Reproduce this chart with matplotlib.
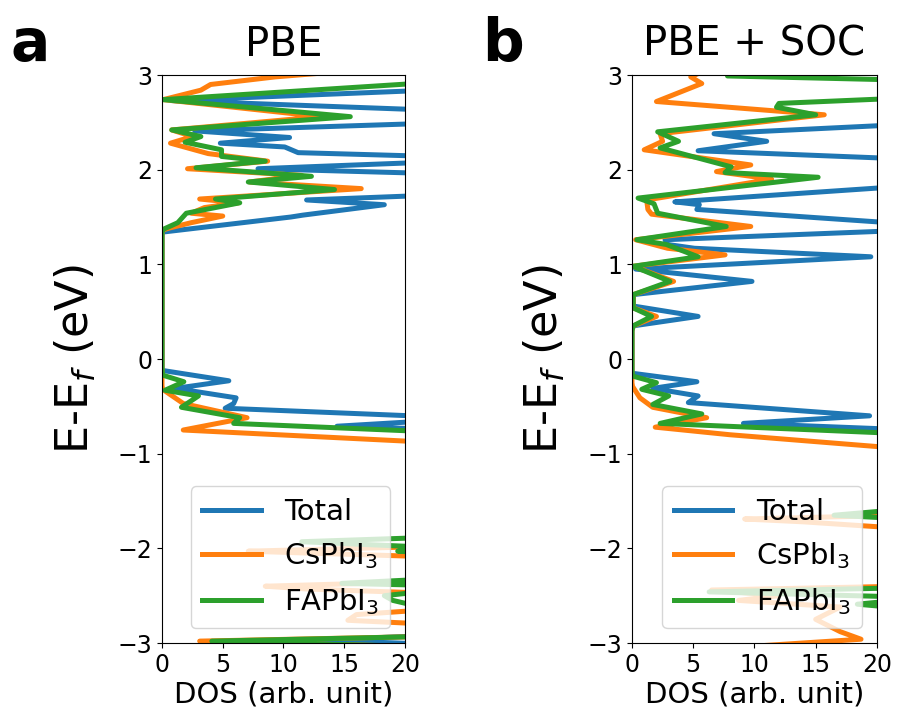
import matplotlib
matplotlib.use('Agg')
import matplotlib.pyplot as plt

# ---- panel a: PBE (energy in eV, DOS in arb. unit) ----
pbe_total_e = [-3.05, -2.97, -2.92, -2.85, -1.0, -0.80, -0.74, -0.71, -0.66, -0.63, -0.60,
               -0.52, -0.47, -0.41, -0.31, -0.23, -0.12, 1.34, 1.50, 1.52, 1.63, 1.68, 1.73,
               1.85, 1.96, 2.01, 2.08, 2.13, 2.18, 2.24, 2.28, 2.34, 2.41, 2.49, 2.56, 2.63,
               2.73, 2.84, 3.05]
pbe_total_dos = [30, 13, 22, 35, 35, 30, 22, 14.4, 21, 24, 20.5,
                 5.2, 5.9, 6.1, 1.1, 5.5, 0, 0, 10.6, 11.6, 18.3, 11.9, 22,
                 30, 22, 7.9, 22, 25, 11.2, 10.1, 4.8, 10.5, 2.7, 22, 28, 22,
                 0.8, 22, 35]

pbe_cs_e = [-3.05, -2.98, -2.93, -2.85, -2.76, -2.70, -2.62, -2.50, -2.43, -2.40, -2.35,
            -2.25, -2.18, -2.10, -2.05, -2.03, -1.98, -1.87, -1.80, -1.5, -1.0, -0.87,
            -0.75, -0.62, -0.47, -0.32, -0.28, 1.36, 1.38, 1.44, 1.51, 1.54, 1.60, 1.65,
            1.69, 1.80, 1.87, 1.94, 2.01, 2.09, 2.17, 2.28, 2.35, 2.42, 2.56, 2.74, 2.84,
            2.90, 2.98, 3.05]
pbe_cs_dos = [25, 3.1, 22, 30, 15.3, 16, 25, 28, 12, 8.5, 22,
              28, 21, 25, 12, 7.1, 22, 21, 28, 35, 30, 20.5,
              1.75, 7.0, 1.75, 0.05, 0, 0, 0.5, 2.4, 5.0, 2.4, 3.5, 6.3,
              3.1, 16.4, 7.2, 11.5, 2.1, 8.7, 3.8, 0.7, 2.5, 0.8, 13.1, 0.1, 3.2,
              4.0, 9.3, 16]

pbe_fa_e = [-3.05, -2.98, -2.93, -2.85, -2.70, -2.55, -2.50, -2.45, -2.40, -2.37, -2.33,
            -2.25, -2.20, -2.10, -2.05, -2.03, -2.00, -1.93, -1.88, -1.80, -1.7, -1.0,
            -0.80, -0.76, -0.68, -0.62, -0.51, -0.39, -0.33, -0.24, -0.17, -0.10, 1.35,
            1.37, 1.44, 1.54, 1.65, 1.69, 1.79, 1.87, 1.93, 2.02, 2.09, 2.14, 2.21, 2.29,
            2.35, 2.42, 2.56, 2.74, 2.92, 3.05]
pbe_fa_dos = [25, 4.1, 22, 28, 24, 19, 18.3, 22, 25, 14.8, 21,
              30, 21, 28, 22, 19.4, 24, 11.5, 23, 21, 30, 30,
              24, 20.5, 5.9, 6.4, 1.6, 3.0, 0.25, 1.8, 0.05, 0, 0,
              0.1, 1.3, 2.0, 6.4, 4.4, 14.2, 7.1, 12.3, 2.8, 8.5, 4.9, 4.9, 1.9,
              3.2, 0.8, 15.5, 0.1, 22, 35]

# ---- panel b: PBE + SOC ----
soc_total_e = [-3.05, -1.0, -0.80, -0.74, -0.68, -0.60, -0.46, -0.39, -0.31, -0.24, -0.15,
               0.30, 0.35, 0.45, 0.56, 0.68, 0.82, 0.95, 1.08, 1.17, 1.21, 1.26, 1.35, 1.40,
               1.44, 1.58, 1.63, 1.66, 1.81, 1.95, 2.12, 2.20, 2.30, 2.38, 2.47, 2.70, 3.05]
soc_total_dos = [35, 35, 26, 21, 9.1, 19.4, 4.6, 5.4, 1.7, 5.3, 0,
                 0, 0.1, 5.4, 0.1, 0.1, 9.8, 0.3, 19.5, 5.1, 2.9, 2.7, 20.5, 26,
                 21, 5.3, 5.5, 3.5, 20.5, 30, 21, 5.4, 11.0, 6.7, 21, 35, 35]

soc_cs_e = [-3.05, -2.96, -2.88, -2.75, -2.62, -2.55, -2.50, -2.44, -2.40, -2.30, -2.27,
            -2.22, -2.16, -2.0, -1.78, -1.72, -1.69, -1.65, -1.5, -1.0, -0.93, -0.80,
            -0.72, -0.62, -0.51, -0.41, -0.29, -0.25, 0.30, 0.35, 0.45, 0.54, 0.68, 0.82,
            0.98, 1.10, 1.17, 1.26, 1.40, 1.53, 1.58, 1.68, 1.90, 1.98, 2.05, 2.21, 2.30,
            2.38, 2.58, 2.72, 2.91, 2.98, 3.05]
soc_cs_dos = [8, 18.7, 17, 15, 17, 8.7, 12, 6.5, 22, 30, 21,
              25, 21, 30, 21, 14, 9.2, 22, 35, 30, 20.5, 8,
              1.9, 6.1, 1.7, 0.65, 0.05, 0, 0, 0.1, 2.0, 0.1, 0.1, 3.4,
              0.1, 7.6, 2.9, 0.3, 9.7, 1.6, 1.3, 1.2, 11.4, 6.9, 9.7, 1.0, 2.5,
              2.3, 15.7, 2.0, 5.7, 4.8, 6]

soc_fa_e = [-3.05, -2.80, -2.70, -2.59, -2.52, -2.46, -2.42, -2.38, -2.30, -2.22, -2.15,
            -2.10, -2.0, -1.70, -1.65, -1.60, -1.5, -1.0, -0.85, -0.78, -0.68, -0.58,
            -0.48, -0.39, -0.32, -0.25, -0.18, -0.12, 0.30, 0.35, 0.45, 0.54, 0.68, 0.82,
            0.98, 1.08, 1.21, 1.26, 1.40, 1.54, 1.64, 1.70, 1.92, 1.97, 2.03, 2.23, 2.30,
            2.40, 2.58, 2.66, 2.70, 2.75, 2.85, 2.95, 2.99, 3.05]
soc_fa_dos = [30, 21, 28, 18.4, 24, 6.3, 21, 24, 30, 21, 26,
              21, 30, 24, 16.5, 21, 30, 30, 25, 20.5, 2.3, 5.7,
              1.7, 3.0, 0.8, 2.0, 0.05, 0, 0, 0.1, 1.6, 0.1, 0.1, 3.1,
              0.1, 5.4, 2.8, 0.4, 7.7, 2.1, 1.8, 0.5, 15.2, 7.6, 8.1, 2.3, 3.8,
              2.1, 15.0, 11.8, 12.0, 21, 30, 21, 7.8, 8]

labels = ['Total', 'CsPbI$_3$', 'FAPbI$_3$']
colors = ['tab:blue', 'tab:orange', 'tab:green']

panels = [
    ('a', 'PBE', [(pbe_total_e, pbe_total_dos), (pbe_cs_e, pbe_cs_dos), (pbe_fa_e, pbe_fa_dos)]),
    ('b', 'PBE + SOC', [(soc_total_e, soc_total_dos), (soc_cs_e, soc_cs_dos), (soc_fa_e, soc_fa_dos)]),
]

fig = plt.figure(figsize=(9.01, 7.22), dpi=100)
axes = [fig.add_axes([0.1798, 0.1094, 0.2697, 0.7867]),
        fig.add_axes([0.7014, 0.1094, 0.2719, 0.7867])]

for ax, (letter, title, series) in zip(axes, panels):
    for (e, dos), lab, col in zip(series, labels, colors):
        ax.plot(dos, e, color=col, lw=3.6, label=lab)
    ax.set_xlim(0, 20)
    ax.set_ylim(-3, 3)
    ax.set_xticks([0, 5, 10, 15, 20])
    ax.set_yticks([-3, -2, -1, 0, 1, 2, 3])
    ax.tick_params(labelsize=17)
    ax.set_title(title, fontsize=29, pad=14)
    ax.set_xlabel('DOS (arb. unit)', fontsize=21, labelpad=3)
    ax.set_ylabel('E-E$_f$ (eV)', fontsize=32)
    ax.yaxis.set_label_coords(-0.265, 0.5)
    ax.legend(loc='lower right', fontsize=21)

fig.text(0.012, 0.915, 'a', fontsize=42, fontweight='bold')
fig.text(0.535, 0.915, 'b', fontsize=42, fontweight='bold')

plt.savefig('out.png', dpi=100)
